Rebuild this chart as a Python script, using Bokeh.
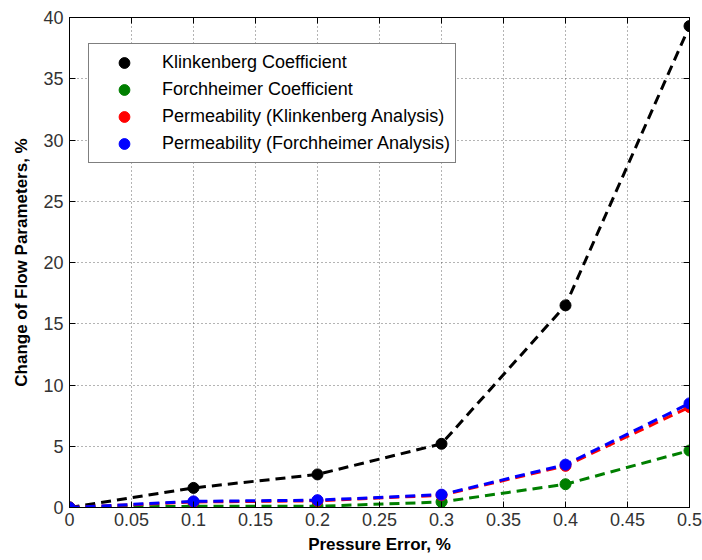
from bokeh.plotting import figure
from bokeh.models import (Legend, LegendItem, LinearAxis, FixedTicker, Range1d,
                          CustomJSTickFormatter)
from bokeh.embed import file_html
from bokeh.resources import INLINE

# ---- data ----
pressure_error = [0.0, 0.1, 0.2, 0.3, 0.4, 0.5]
klinkenberg_coeff = [0.0, 1.6, 2.7, 5.2, 16.5, 39.3]
forchheimer_coeff = [0.0, 0.1, 0.1, 0.45, 1.9, 4.65]
perm_klinkenberg = [0.0, 0.45, 0.55, 1.0, 3.4, 8.2]
perm_forchheimer = [0.0, 0.5, 0.6, 1.05, 3.5, 8.5]

series_names = ["Klinkenberg Coefficient", "Forchheimer Coefficient",
                "Permeability (Klinkenberg Analysis)",
                "Permeability (Forchheimer Analysis)"]
series_colors = ["#000000", "#007f00", "#ff0000", "#0000ff"]

x_ticks = [0, 0.05, 0.1, 0.15, 0.2, 0.25, 0.3, 0.35, 0.4, 0.45, 0.5]
x_tick_labels = ["0", "0.05", "0.1", "0.15", "0.2", "0.25", "0.3", "0.35", "0.4", "0.45", "0.5"]
y_ticks = [0, 5, 10, 15, 20, 25, 30, 35, 40]
y_tick_labels = ["0", "5", "10", "15", "20", "25", "30", "35", "40"]

x_title = "Pressure Error, %"
y_title = "Change of Flow Parameters, %"

FONT = "Liberation Sans"

p = figure(width=702, height=560, output_backend="svg", toolbar_location=None,
           x_range=Range1d(0, 0.5), y_range=Range1d(0, 40),
           min_border_left=69, min_border_right=13, min_border_top=17,
           min_border_bottom=53)
p.background_fill_color = "white"
p.border_fill_color = "white"
p.outline_line_color = "black"
p.outline_line_width = 1

def style_axis(ax, ticks):
    ax.ticker = FixedTicker(ticks=ticks)
    ax.major_tick_in = 6
    ax.major_tick_out = 0
    ax.minor_tick_line_color = None
    ax.axis_line_color = "black"
    ax.major_tick_line_color = "black"

for ax, ticks, labels in ((p.xaxis[0], x_ticks, x_tick_labels),
                          (p.yaxis[0], y_ticks, y_tick_labels)):
    style_axis(ax, ticks)
    ax.major_label_overrides = {t: l for t, l in zip(ticks, labels)}
    ax.major_label_text_font = FONT
    ax.major_label_text_font_size = "18px"
    ax.major_label_text_color = "#333333"
p.xaxis[0].major_label_standoff = 5
p.yaxis[0].major_label_standoff = 6

for ax, title in ((p.xaxis[0], x_title), (p.yaxis[0], y_title)):
    ax.axis_label = title
    ax.axis_label_text_font = FONT
    ax.axis_label_text_font_style = "bold"
    ax.axis_label_text_font_size = "17px"
    ax.axis_label_text_color = "black"
p.xaxis[0].axis_label_standoff = 6
p.yaxis[0].axis_label_standoff = 9

top_ax = LinearAxis(formatter=CustomJSTickFormatter(code="return '';"))
right_ax = LinearAxis(formatter=CustomJSTickFormatter(code="return '';"))
style_axis(top_ax, x_ticks)
style_axis(right_ax, y_ticks)
for ax in (top_ax, right_ax):
    ax.major_label_standoff = 0
    ax.major_label_text_font_size = "1px"
p.add_layout(top_ax, "above")
p.add_layout(right_ax, "right")

for g in (p.xgrid[0], p.ygrid[0]):
    g.grid_line_color = "#444444"
    g.grid_line_dash = "1 3"
    g.grid_line_width = 1
    g.grid_line_alpha = 0.8
p.xgrid[0].ticker = FixedTicker(ticks=x_ticks)
p.ygrid[0].ticker = FixedTicker(ticks=y_ticks)

all_series = [klinkenberg_coeff, forchheimer_coeff, perm_klinkenberg, perm_forchheimer]
items = []
for name, color, ys in zip(series_names, series_colors, all_series):
    p.line(pressure_error, ys, line_color=color, line_width=3, line_dash="10 6")
    r = p.scatter(pressure_error, ys, marker="circle", size=11,
                  fill_color=color, line_color=color)
    items.append(LegendItem(label=name, renderers=[r]))

legend = Legend(items=items, location=(19, 344))
legend.label_text_font = FONT
legend.label_text_font_size = "18px"
legend.label_text_color = "black"
legend.label_height = 27
legend.glyph_height = 27
legend.glyph_width = 60
legend.label_standoff = 8
legend.spacing = 0
legend.padding = 5
legend.margin = 0
legend.border_line_color = "black"
legend.border_line_width = 1
legend.background_fill_color = "white"
legend.background_fill_alpha = 1.0
p.add_layout(legend)

open("out.html", "w").write(file_html(p, INLINE))
